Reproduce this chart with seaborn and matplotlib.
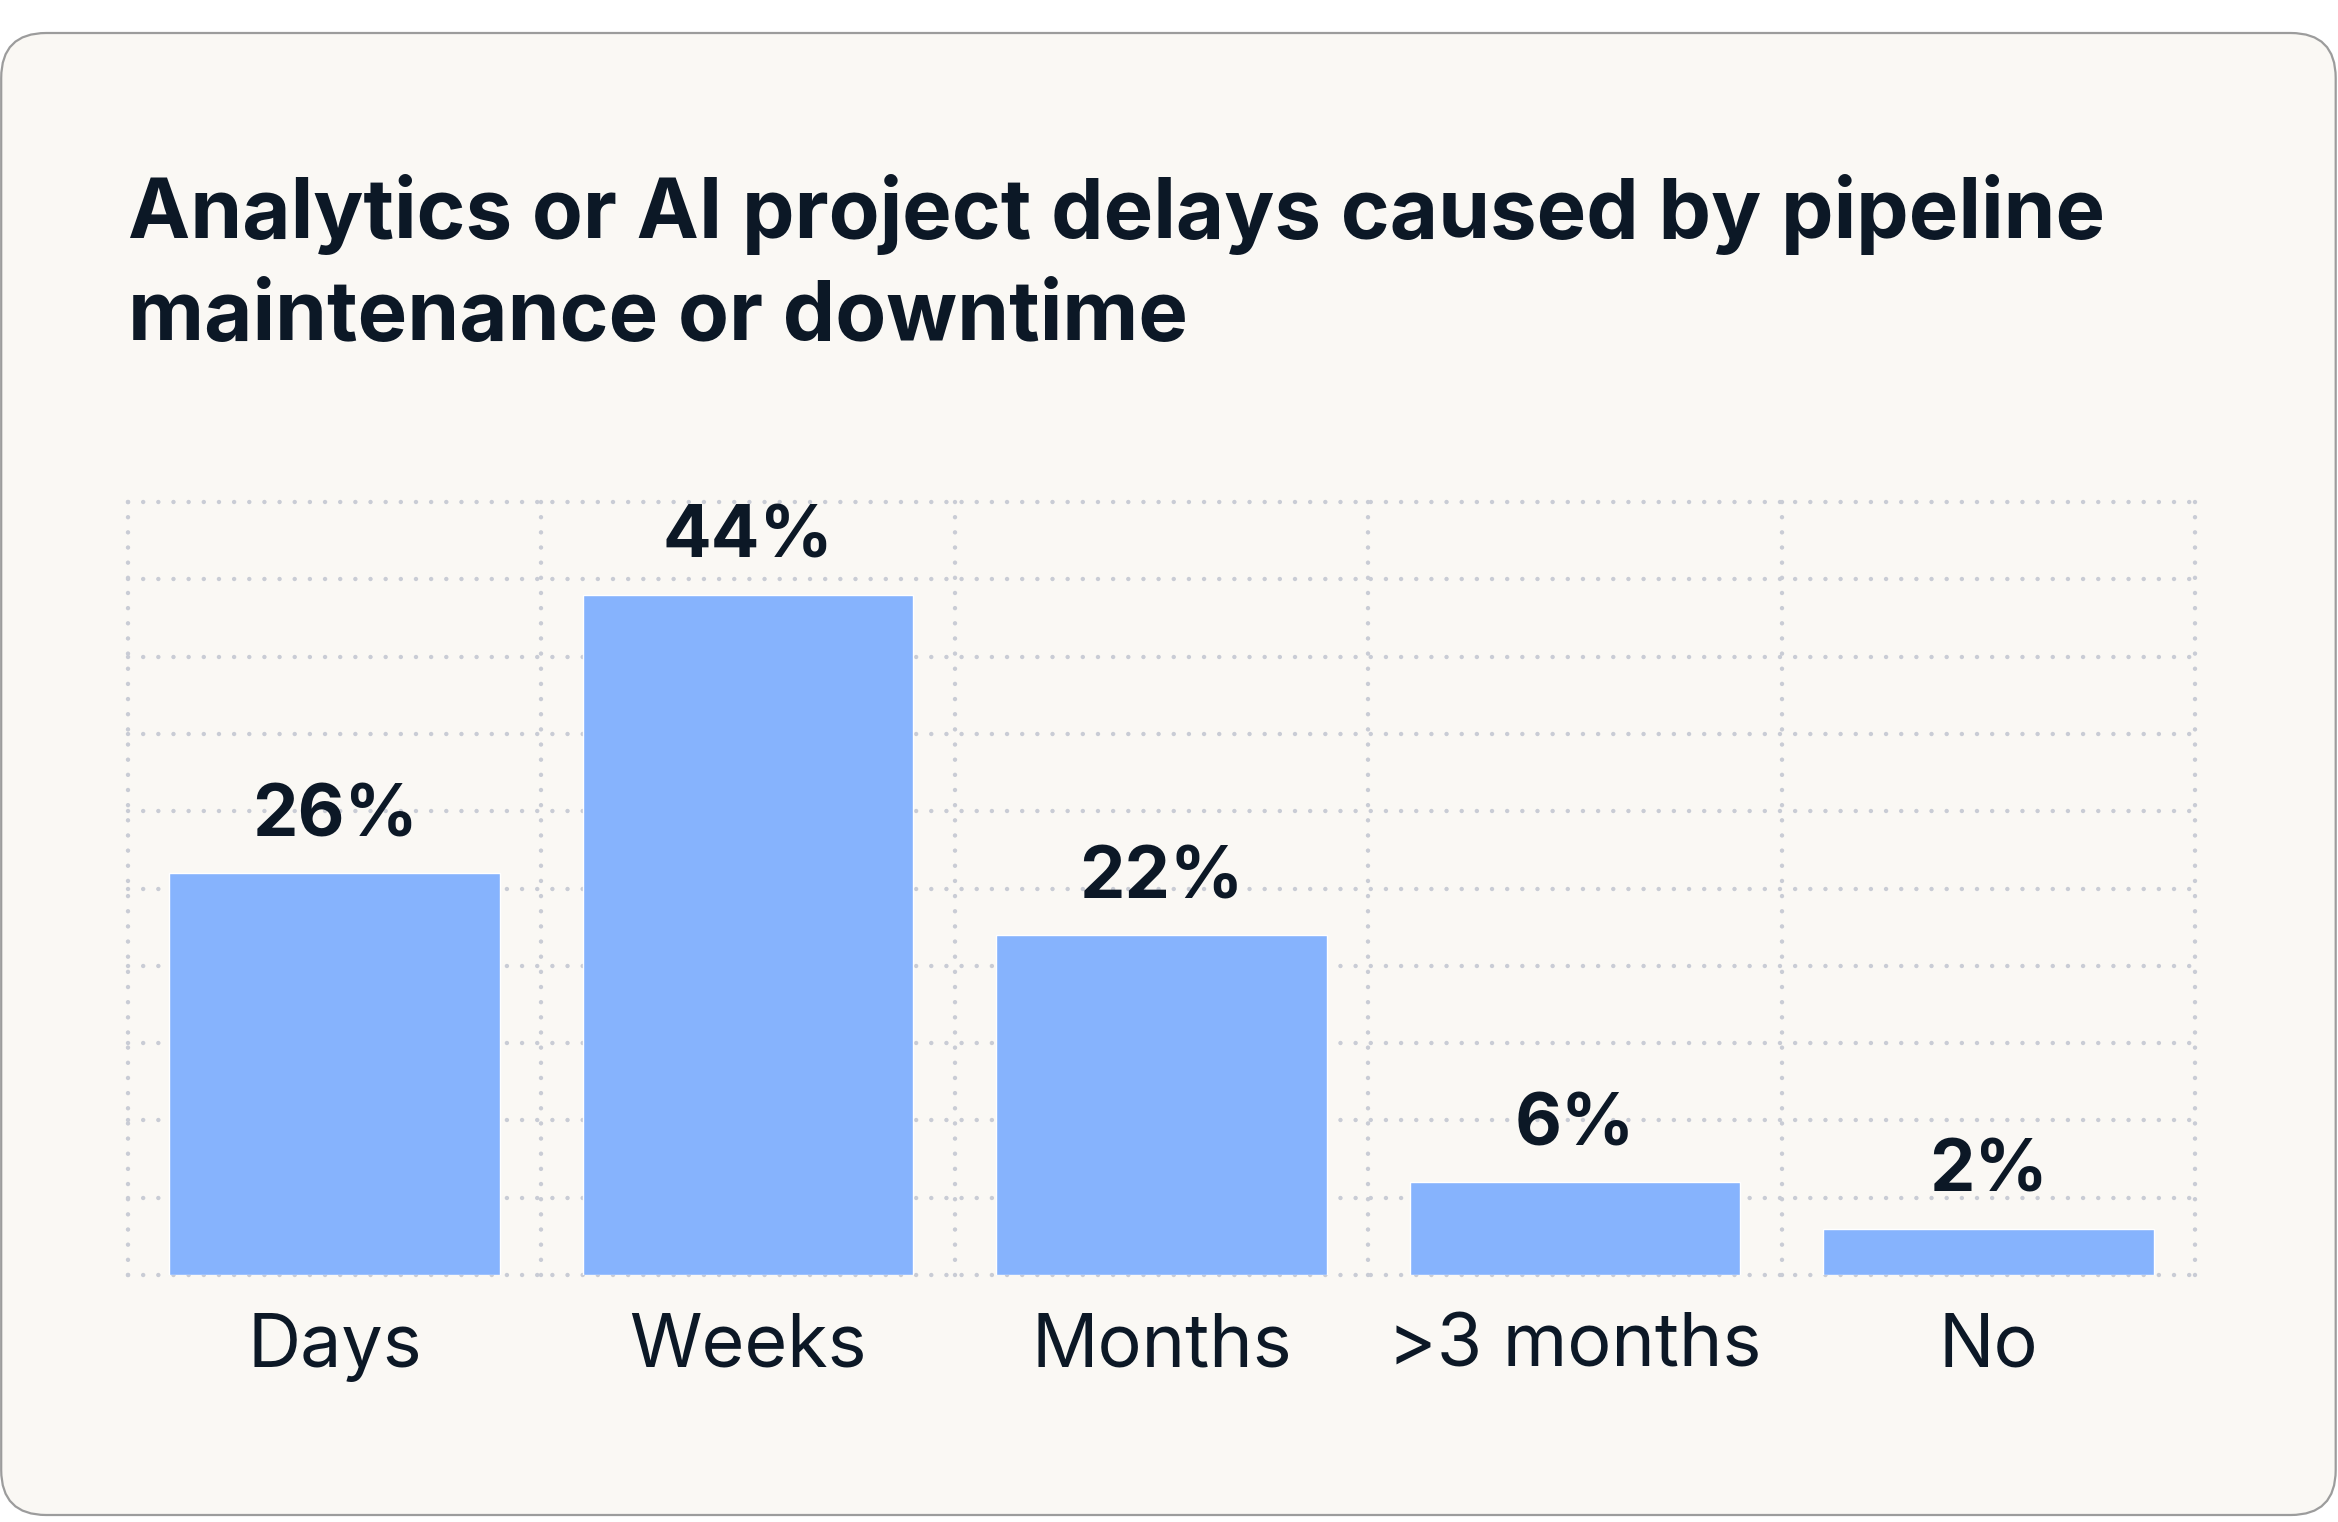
import matplotlib
matplotlib.use("Agg")
import matplotlib.pyplot as plt
from matplotlib.patches import FancyBboxPatch
import seaborn as sns
import pandas as pd

# data
categories = ["Days", "Weeks", "Months", ">3 months", "No"]
shares = [26, 44, 22, 6, 3]          # bar heights as drawn
value_labels = ["26%", "44%", "22%", "6%", "2%"]   # printed labels
title_lines = ["Analytics or AI project delays caused by pipeline",
               "maintenance or downtime"]

BAR = "#86b3fd"
INK = "#0c1826"
GRID = "#c9ccd5"
CARD = "#faf8f4"

sns.set_style("white")
plt.rcParams["font.family"] = ["Inter", "DejaVu Sans"]

W, H, DPI = 2338, 1522, 100
fig = plt.figure(figsize=(W / DPI, H / DPI), dpi=DPI)
fig.patch.set_facecolor("white")

# rounded card behind everything
card = FancyBboxPatch((0.012, 0.07), 23.345, 14.82,
                      boxstyle="round,pad=0,rounding_size=0.45",
                      transform=fig.dpi_scale_trans,
                      facecolor=CARD, edgecolor="#9c9c9c", linewidth=1.6,
                      zorder=-5)
fig.patches.append(card)

# title, two lines
fig.text(128 / W, 1 - 238 / H, title_lines[0], fontsize=60, fontweight="bold",
         color=INK, va="baseline", ha="left")
fig.text(128 / W, 1 - 340 / H, title_lines[1], fontsize=60, fontweight="bold",
         color=INK, va="baseline", ha="left")

ax = fig.add_axes([128 / W, 1 - 1275 / H, (2195 - 128) / W, (1275 - 502) / H])
ax.set_facecolor("none")

df = pd.DataFrame({"category": categories, "share": shares})
sns.barplot(data=df, x="category", y="share", color=BAR, saturation=1,
            width=0.8, ax=ax, zorder=2)

ax.set_xlim(-0.5, len(categories) - 0.5)
ax.set_ylim(0, 50)
ax.set_yticks(range(0, 51, 5))
ax.set_xticks([i - 0.5 for i in range(len(categories) + 1)], minor=True)
dots = dict(color=GRID, linewidth=3.2, linestyle=(0, (0.01, 3.4)),
            dash_capstyle="round")
ax.grid(True, which="major", axis="y", **dots)
ax.grid(True, which="minor", axis="x", **dots)
ax.grid(False, which="major", axis="x")
for t in ax.yaxis.get_major_ticks() + ax.xaxis.get_minor_ticks():
    t.gridline.set_clip_on(False)
ax.set_axisbelow(True)

for s in ax.spines.values():
    s.set_visible(False)
ax.tick_params(axis="both", which="both", length=0)
ax.tick_params(axis="x", labelsize=53, labelcolor=INK, pad=27)
ax.set_yticklabels([])
ax.set_xlabel("")
ax.set_ylabel("")

for i, (v, lab) in enumerate(zip(shares, value_labels)):
    ax.annotate(lab, (i, v), xytext=(0, 26.5), textcoords="offset points",
                ha="center", va="baseline", fontsize=52, fontweight="bold",
                color=INK)

fig.savefig("out.png", dpi=DPI)
